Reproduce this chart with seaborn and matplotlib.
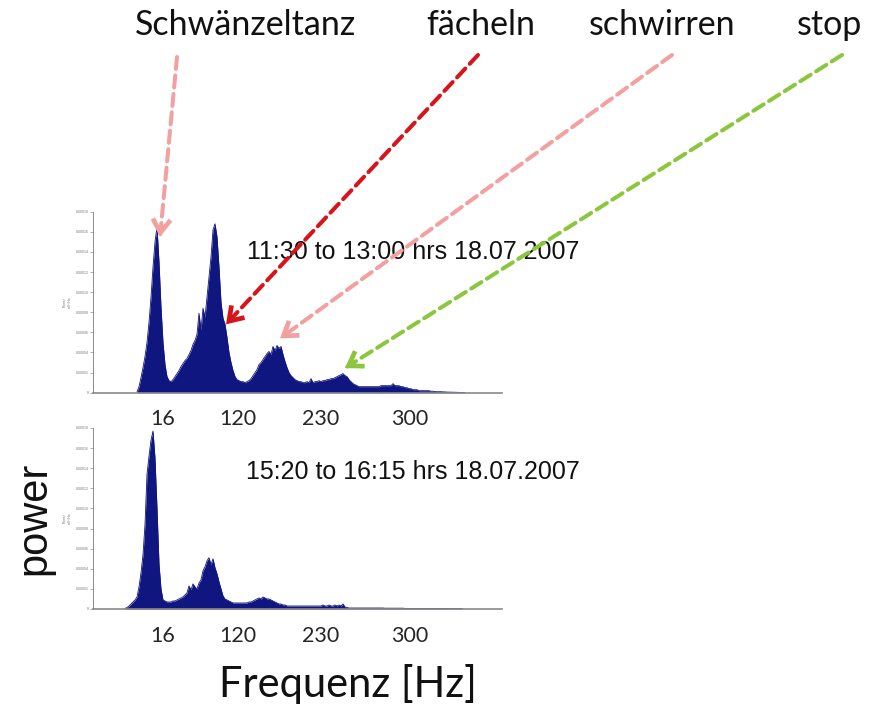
import numpy as np
import pandas as pd
import matplotlib
matplotlib.use("Agg")
import matplotlib.pyplot as plt
import seaborn as sns
from matplotlib import font_manager

# ---- data -------------------------------------------------------------
behaviour_labels = ["Schwänzeltanz", "fächeln", "schwirren", "stop"]
period_labels = ["11:30 to 13:00 hrs 18.07.2007", "15:20 to 16:15 hrs 18.07.2007"]
freq_tick_labels = ["16", "120", "230", "300"]
freq_tick_bins = [69.5, 145, 228, 317]
power_ticks = [0, 2e-5, 4e-5, 6e-5, 8e-5, 10e-5, 12e-5, 14e-5, 16e-5, 18e-5]

bin_step = 2
bin_start_1130 = 44
bin_start_1520 = 32

# spectral power, units of 1e-5 mV^2/Hz
power_1130 = [
    0.1, 0.6, 1.5, 2.5, 3.6, 5.0, 7.0, 9.5, 12.5, 15.0,
    16.5, 13.0, 8.5, 5.0, 2.8, 1.6, 1.2, 1.1, 1.3, 1.6,
    1.9, 2.2, 2.6, 2.9, 3.2, 3.4, 3.8, 4.2, 4.8, 5.2,
    5.8, 7.9, 6.2, 8.4, 7.5, 9.5, 11.5, 13.5, 16.2, 16.8,
    15.5, 12.5, 9.0, 7.4, 6.8, 5.5, 4.0, 3.0, 2.2, 1.6,
    1.3, 1.2, 1.1, 1.1, 1.0, 1.1, 1.2, 1.4, 1.7, 2.0,
    2.3, 2.8, 3.0, 3.3, 3.6, 3.9, 4.1, 3.8, 4.6, 4.2,
    4.7, 4.4, 4.6, 3.8, 3.1, 2.5, 2.0, 1.7, 1.5, 1.3,
    1.2, 1.1, 1.1, 1.0, 1.0, 1.1, 1.0, 1.4, 1.0, 1.1,
    1.1, 1.2, 1.1, 1.2, 1.2, 1.3, 1.3, 1.4, 1.4, 1.5,
    1.6, 1.7, 1.8, 1.9, 1.7, 1.6, 1.3, 1.1, 0.9, 0.8,
    0.7, 0.6, 0.6, 0.6, 0.6, 0.6, 0.6, 0.6, 0.6, 0.6,
    0.6, 0.6, 0.7, 0.7, 0.7, 0.7, 0.7, 0.7, 0.9, 0.7,
    0.7, 0.7, 0.6, 0.6, 0.5, 0.5, 0.4, 0.4, 0.3, 0.3,
    0.3, 0.2, 0.2, 0.2, 0.2, 0.2, 0.2, 0.15, 0.15, 0.1,
    0.1, 0.1, 0.1, 0.08, 0.08, 0.06, 0.06, 0.05, 0.05, 0.04,
    0.04, 0.03, 0.03, 0.02, 0.0,
]
power_1520 = [
    0.05, 0.15, 0.3, 0.5, 0.7, 0.9, 1.2, 2.2, 3.6, 5.4,
    8.4, 13.4, 15.2, 16.8, 17.7, 15.0, 10.0, 4.5, 2.0, 0.9,
    0.8, 0.7, 0.7, 0.7, 0.8, 0.8, 0.9, 1.0, 1.1, 1.2,
    1.4, 1.6, 2.3, 1.9, 2.5, 2.2, 2.0, 2.6, 2.9, 3.8,
    4.2, 4.8, 5.1, 4.4, 5.0, 4.1, 3.5, 2.7, 2.0, 1.3,
    1.0, 0.9, 0.8, 0.7, 0.6, 0.6, 0.6, 0.6, 0.6, 0.6,
    0.6, 0.6, 0.7, 0.7, 0.8, 0.9, 1.0, 1.1, 1.0, 1.2,
    1.1, 1.0, 1.0, 0.9, 0.8, 0.7, 0.6, 0.5, 0.5, 0.4,
    0.4, 0.3, 0.3, 0.3, 0.3, 0.3, 0.3, 0.3, 0.3, 0.3,
    0.3, 0.3, 0.3, 0.3, 0.3, 0.3, 0.3, 0.3, 0.3, 0.4,
    0.3, 0.3, 0.4, 0.3, 0.3, 0.4, 0.3, 0.4, 0.3, 0.5,
    0.2, 0.15, 0.1, 0.1, 0.1, 0.1, 0.1, 0.1, 0.1, 0.1,
    0.1, 0.1, 0.1, 0.1, 0.1, 0.1, 0.1, 0.1, 0.1, 0.1,
    0.08, 0.08, 0.08, 0.08, 0.08, 0.08, 0.08, 0.08, 0.08, 0.08,
    0.06, 0.06, 0.06, 0.06, 0.06, 0.06, 0.06, 0.06, 0.06, 0.06,
    0.05, 0.05, 0.05, 0.05, 0.05, 0.05, 0.05, 0.05, 0.05, 0.05,
    0.04, 0.04, 0.04, 0.04, 0.04, 0.04, 0.04, 0.04, 0.04, 0.0,
]

# peaks marked by the behaviour arrows (upper spectrum)
arrow_bins = [67, 133, 187, 252]
arrow_power = [15.5, 6.8, 5.4, 2.45]
arrow_colors = ["#f2a0a0", "#d7141a", "#f2a0a0", "#8cc63f"]

# ---- style ------------------------------------------------------------
sns.set_theme(style="white")
plt.rcParams["font.family"] = ["Lato", "DejaVu Sans"]


def pick_caption_font():
    """Arial Narrow look-alike if one is installed, else Liberation Sans."""
    for f in font_manager.fontManager.ttflist:
        if f.name in ("Liberation Sans Narrow", "Arial Narrow") and f.style == "normal" \
                and f.weight in (400, "normal", "regular"):
            return font_manager.FontProperties(fname=f.fname, size=22)
    return font_manager.FontProperties(family="Liberation Sans", size=18)


caption_font = pick_caption_font()

navy = "#10167f"
W, H = 877, 707
fig = plt.figure(figsize=(W / 100, H / 100), dpi=100)
fig.patch.set_facecolor("white")


def spectrum_frame(power, start):
    bins = start + bin_step * np.arange(len(power))
    return pd.DataFrame({"bin": bins, "power": np.array(power) * 1e-5})


panels = [
    (fig.add_axes([93 / W, (H - 392.7) / H, 409 / W, 181 / H]), spectrum_frame(power_1130, bin_start_1130)),
    (fig.add_axes([93 / W, (H - 609) / H, 409 / W, 181 / H]), spectrum_frame(power_1520, bin_start_1520)),
]

for ax, df in panels:
    ax.set_facecolor("white")
    sns.lineplot(data=df, x="bin", y="power", ax=ax, color=navy, lw=0.6)
    ax.fill_between(df["bin"], df["power"], color=navy, lw=0)
    ax.set_xlim(0, 409)
    ax.set_ylim(0, 18e-5)
    for s in ("top", "right"):
        ax.spines[s].set_visible(False)
    ax.spines["left"].set_color("#8a8a8a")
    ax.spines["left"].set_linewidth(0.7)
    ax.spines["bottom"].set_color("#8a8a8a")
    ax.spines["bottom"].set_linewidth(1.2)
    ax.set_yticks(power_ticks)
    ax.set_yticklabels(["0" if v == 0 else f"{v:.5f}" for v in power_ticks],
                       fontsize=2.5, color="#777777", family="Liberation Sans")
    ax.tick_params(axis="y", length=2, width=0.5, color="#8a8a8a", pad=1, left=True)
    ax.set_xticks(freq_tick_bins)
    ax.set_xticklabels(freq_tick_labels, fontsize=15.5)
    ax.tick_params(axis="x", length=0, pad=12)
    ax.set_xlabel("")
    ax.set_ylabel("Power\nmV²/Hz", fontsize=2.5, color="#777777", labelpad=3,
                  family="Liberation Sans")

ax_top, ax_bot = panels[0][0], panels[1][0]

# recording period captions
for ax, label, yc in ((ax_top, period_labels[0], 252), (ax_bot, period_labels[1], 472)):
    ax.text(413 / W, 1 - yc / H, label, transform=fig.transFigure, ha="center", va="center",
            fontproperties=caption_font, color="#111111", zorder=1)

# behaviour names along the top
for label, xc in zip(behaviour_labels, [245.5, 481, 662.5, 830]):
    fig.text(xc / W, 1 - 35 / H, label, ha="center", va="baseline", fontsize=24.5, color="#111111")

fig.text(348 / W, 1 - 696.7 / H, "Frequenz [Hz]", ha="center", va="baseline", fontsize=30, color="#111111")
fig.text(34 / W, 1 - 518 / H, "power", rotation=90, ha="center", va="center",
         fontsize=30, family="Liberation Sans", color="#111111")

# dashed arrows from each behaviour name to its spectral peak
starts = [(177, H - 57), (478, H - 55), (672, H - 55), (842, H - 55)]
for (sx, sy), b, p, c in zip(starts, arrow_bins, arrow_power, arrow_colors):
    tip = (b, p * 1e-5)
    ax_top.annotate("", xy=tip, xycoords="data", xytext=(sx, sy), textcoords="figure pixels",
                    arrowprops=dict(arrowstyle="-", color=c, lw=2.9, linestyle=(0, (3.0, 1.6)),
                                    shrinkA=0, shrinkB=2),
                    annotation_clip=False, zorder=5)
    tx, ty = ax_top.transData.transform(tip)
    d = np.array([sx - tx, sy - ty])
    d = d / np.hypot(*d) * 8
    ax_top.annotate("", xy=tip, xycoords="data", xytext=(d[0], d[1]), textcoords="offset points",
                    arrowprops=dict(arrowstyle="->,head_length=0.6,head_width=0.4", color=c, lw=3.4,
                                    mutation_scale=16, shrinkA=0, shrinkB=0,
                                    joinstyle="miter", capstyle="butt"),
                    annotation_clip=False, zorder=6)

fig.savefig("out.png", dpi=100, facecolor="white")
